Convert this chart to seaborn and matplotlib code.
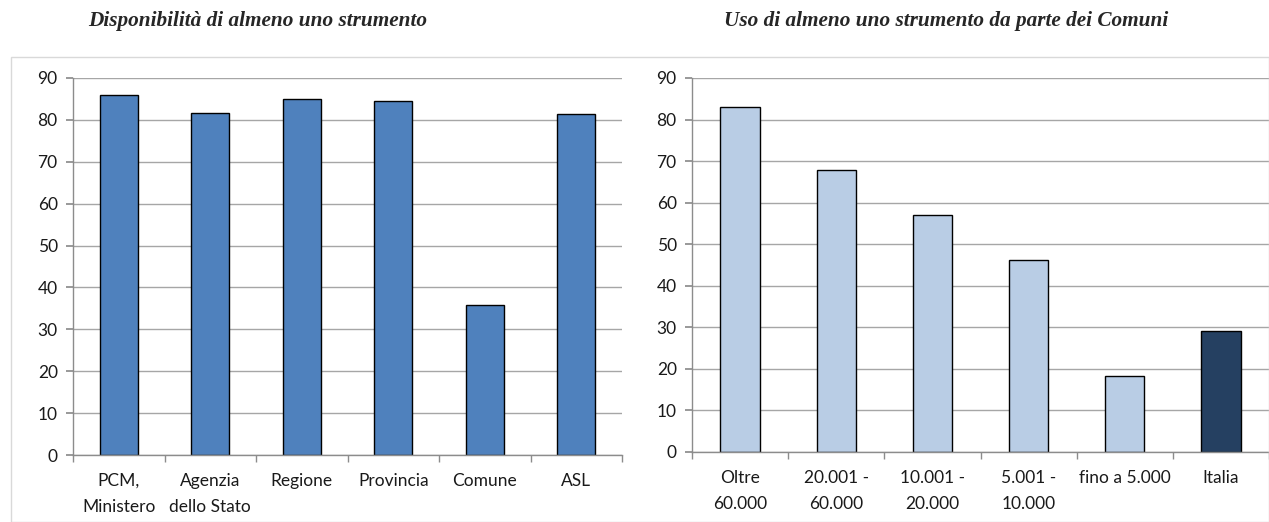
import numpy as np
import matplotlib
matplotlib.use("Agg")
import matplotlib.pyplot as plt
import seaborn as sns
from matplotlib.patches import Rectangle

# Data
disp_labels = ["PCM,\nMinistero", "Agenzia\ndello Stato", "Regione",
               "Provincia", "Comune", "ASL"]
disp_values = [86.0, 81.7, 85.0, 84.4, 35.7, 81.4]

uso_labels = ["Oltre\n60.000", "20.001 -\n60.000", "10.001 -\n20.000",
              "5.001 -\n10.000", "fino a 5.000", "Italia"]
uso_values = [83.0, 67.8, 57.0, 46.2, 18.4, 29.0]

title_left = "Disponibilità di almeno uno strumento"
title_right = "Uso di almeno uno strumento da parte dei Comuni"

sns.set_theme(style="white")
plt.rcParams['font.family'] = ['Lato', 'DejaVu Sans']

fig = plt.figure(figsize=(12.69, 5.22), dpi=100)

# light frame around the chart area
fig.patches.append(Rectangle((11 / 1269, 0), 1258 / 1269, 1 - 57 / 522,
                             transform=fig.transFigure, fill=False,
                             edgecolor="#d9d9d9", linewidth=1.0))

ax1 = fig.add_axes([73 / 1269, 1 - 455 / 522, (622 - 73) / 1269, (455 - 78) / 522])
ax2 = fig.add_axes([692 / 1269, 1 - 452 / 522, (1269 - 692) / 1269, (452 - 78) / 522])


def style_axis(ax, labels):
    ax.set_ylim(0, 90)
    ax.set_xlim(-0.5, len(labels) - 0.5)
    ax.set_yticks(np.arange(0, 91, 10))
    ax.yaxis.grid(True, color="#a6a6a6", linewidth=1.0)
    ax.set_axisbelow(True)
    for side in ["top", "right"]:
        ax.spines[side].set_visible(False)
    for side in ["left", "bottom"]:
        ax.spines[side].set_color("#8c8c8c")
        ax.spines[side].set_linewidth(1.0)
    ax.set_xticks(range(len(labels)))
    ax.set_xticklabels(labels, fontsize=12.5, color="#1a1a1a", linespacing=1.75)
    ax.tick_params(axis="x", which="major", length=0, pad=13)
    ax.set_xticks(np.arange(-0.5, len(labels), 1.0), minor=True)
    ax.tick_params(axis="x", which="minor", length=5, color="#8c8c8c",
                   direction="out", bottom=True)
    ax.tick_params(axis="y", length=5, color="#8c8c8c", direction="out",
                   left=True, labelsize=12.5, labelcolor="#1a1a1a", pad=6)
    ax.set_xlabel("")
    ax.set_ylabel("")


sns.barplot(x=disp_labels, y=disp_values, hue=disp_labels, legend=False,
            palette=["#4f81bd"] * len(disp_labels), saturation=1,
            edgecolor="black", linewidth=1.0, width=0.42, ax=ax1)
style_axis(ax1, disp_labels)

uso_colors = ["#b9cde5"] * (len(uso_labels) - 1) + ["#254061"]
sns.barplot(x=uso_labels, y=uso_values, hue=uso_labels, legend=False,
            palette=uso_colors, saturation=1,
            edgecolor="black", linewidth=1.0, width=0.41, ax=ax2)
style_axis(ax2, uso_labels)

title_kw = dict(fontsize=15.3, fontweight="bold", fontstyle="italic",
                family=["Liberation Serif", "DejaVu Serif"],
                ha="center", va="center")
fig.text(258 / 1269, 1 - 21 / 522, title_left, **title_kw)
fig.text(946 / 1269, 1 - 21 / 522, title_right, **title_kw)

fig.savefig("out.png", dpi=100)
